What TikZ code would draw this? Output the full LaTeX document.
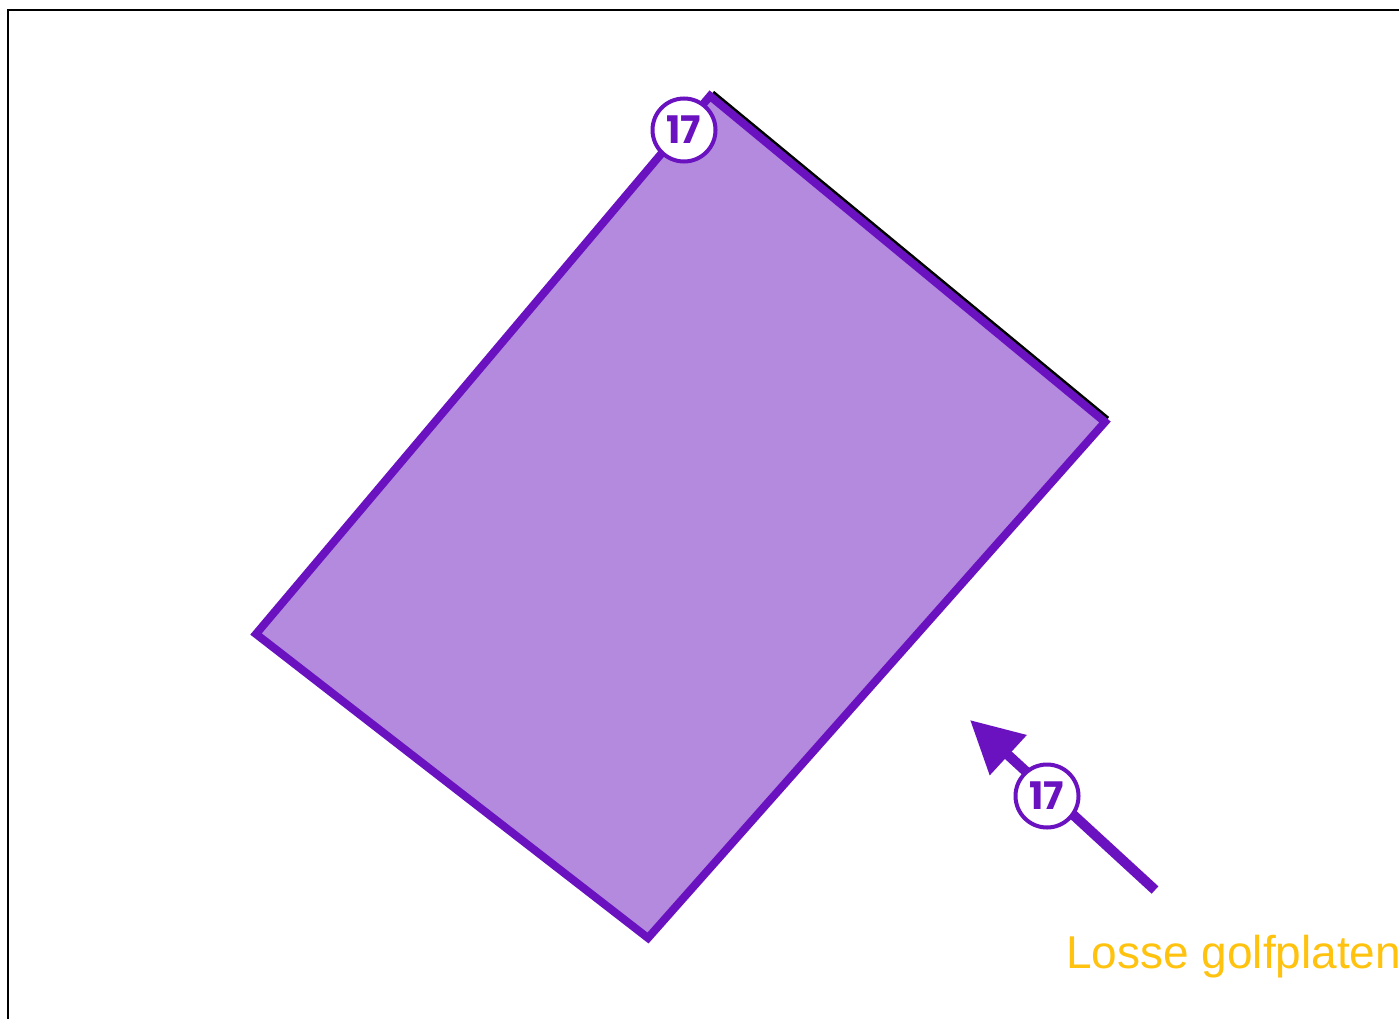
\documentclass[tikz,border=0pt]{standalone}
\usepackage{fontspec}
\setmainfont{Liberation Sans}
\newfontfamily\badgefont{Poppins}
\usetikzlibrary{arrows.meta,calc}
\definecolor{pur}{HTML}{6A12C0}
\definecolor{purfill}{HTML}{B48ADE}
\definecolor{gold}{HTML}{FFC20E}
\tikzset{
  badge/.style={circle, draw=pur, line width=4pt, fill=white, minimum size=63pt, inner sep=0pt,
    font=\badgefont\bfseries\fontsize{38}{38}\selectfont, text=pur},
  plate/.style={draw=pur, line width=8pt, fill=purfill, line join=miter},
  pointer/.style={draw=pur, line width=10pt, -{Triangle[length=52pt,width=52pt]}, shorten >=0pt}
}
\begin{document}
\begin{tikzpicture}[x=1pt,y=-1pt]
\useasboundingbox (0,0) rectangle (1399,1019);
\fill[white] (0,0) rectangle (1399,1019);
\draw[line width=2pt] (8,1019) -- (8,10) -- (1399,10);
\coordinate (pt) at (710,96);
\coordinate (pr) at (1105,422);
\coordinate (pb) at (648,938);
\coordinate (pl) at (256,634);
\draw[line width=3pt] ($(pt)+(3.2,-3.9)$) -- ($(pr)+(3.2,-3.9)$);
\path[plate] (pt) -- (pr) -- (pb) -- (pl) -- cycle;
\node[badge] (b1) at (684,130) {17};
\coordinate (tail) at (1155,890);
\coordinate (tip) at (970,720);
\draw[pointer] (tail) -- (tip);
\node[badge] (b2) at (1047,796) {17};
\node[anchor=base west, text=gold, font=\fontsize{46}{46}\selectfont, inner sep=0pt] (lbl) at (1066,968) {Losse golfplaten};
\end{tikzpicture}
\end{document}
